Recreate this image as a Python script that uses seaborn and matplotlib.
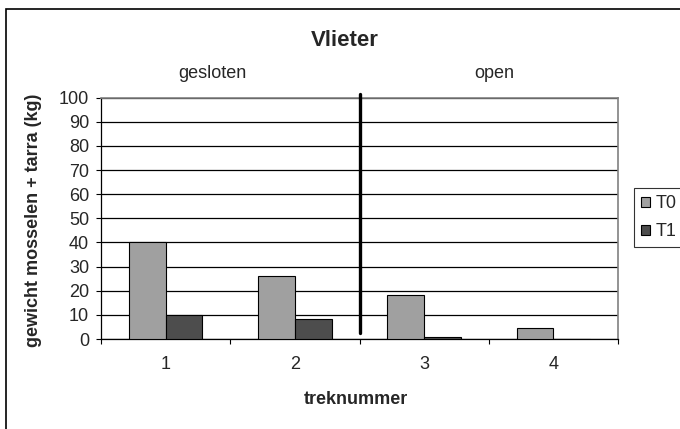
import pandas as pd
import seaborn as sns
import matplotlib.pyplot as plt
from matplotlib.patches import Rectangle

# Data
treknummer = ["1", "2", "3", "4"]
t0 = [40, 26, 18.3, 4.7]
t1 = [10, 8.3, 0.8, 0]
series = ["T0", "T1"]
kleuren = {"T0": "#a0a0a0", "T1": "#4d4d4d"}

df = pd.DataFrame({
    "treknummer": treknummer * 2,
    "gewicht": t0 + t1,
    "reeks": ["T0"] * 4 + ["T1"] * 4,
})

sns.set_style("white")
plt.rcParams["font.family"] = ["Liberation Sans", "DejaVu Sans"]

fs = 13

fig = plt.figure(figsize=(6.8, 4.29), dpi=100)
ax = fig.add_axes([101 / 680, 90 / 429, 517 / 680, 241.3 / 429])

sns.barplot(data=df, x="treknummer", y="gewicht", hue="reeks", palette=kleuren,
            width=0.57, gap=0, edgecolor="black", linewidth=0.8, ax=ax,
            legend=False, zorder=3)

ax.set_ylim(0, 100)
ax.set_xlim(-0.5, 3.5)
ax.set_yticks(range(0, 101, 10))
ax.yaxis.grid(True, color="black", linewidth=0.9)
ax.set_axisbelow(True)
ax.tick_params(axis="y", length=3.6, width=0.8, color="black", labelsize=fs, pad=5, left=True)
ax.set_xticks(range(4))
ax.set_xticks([-0.5, 0.5, 1.5, 2.5, 3.5], minor=True)
ax.tick_params(axis="x", which="major", length=0, labelsize=fs, pad=12)
ax.tick_params(axis="x", which="minor", length=3.6, width=0.8, color="black", bottom=True)

for s in ["left", "bottom"]:
    ax.spines[s].set_color("black")
    ax.spines[s].set_linewidth(0.9)
for s in ["right", "top"]:
    ax.spines[s].set_color("#808080")
    ax.spines[s].set_linewidth(1.2)

ax.set_xlabel("treknummer", fontsize=fs, fontweight="bold")
ax.set_ylabel("gewicht mosselen + tarra (kg)", fontsize=fs, fontweight="bold")
ax.xaxis.set_label_coords(0.493, -0.249)
ax.yaxis.set_label_coords(-0.130, 0.49)
ax.xaxis.label.set_va("center")
ax.yaxis.label.set_va("center")

# scheiding gesloten / open
ax.plot([1.5, 1.5], [2.5, 101.5], color="black", linewidth=2.4, clip_on=False, zorder=5)

fig.text(344.5 / 680, 1 - 40 / 429, "Vlieter", ha="center", va="center",
         fontsize=16, fontweight="bold")
fig.text(212 / 680, 1 - 74 / 429, "gesloten", ha="center", va="center", fontsize=fs)
fig.text(494 / 680, 1 - 74 / 429, "open", ha="center", va="center", fontsize=fs)

handles = [plt.Rectangle((0, 0), 1, 1, facecolor=kleuren[s], edgecolor="black", linewidth=0.8)
           for s in series]
leg = fig.legend(handles, series, loc="upper left", bbox_to_anchor=(634 / 680, 1 - 188 / 429),
                 fontsize=fs, frameon=True, fancybox=False, edgecolor="black",
                 handlelength=0.5, handleheight=0.5, handletextpad=0.3,
                 borderpad=0.4, labelspacing=0.6, borderaxespad=0)
leg.get_frame().set_linewidth(0.8)

# rand rond de grafiek
fig.patches.append(Rectangle((6 / 680, -0.05), 1.0, 1 - 9 / 429 + 0.05, transform=fig.transFigure,
                             fill=False, edgecolor="black", linewidth=1.2))

fig.savefig("out.png", dpi=100)
